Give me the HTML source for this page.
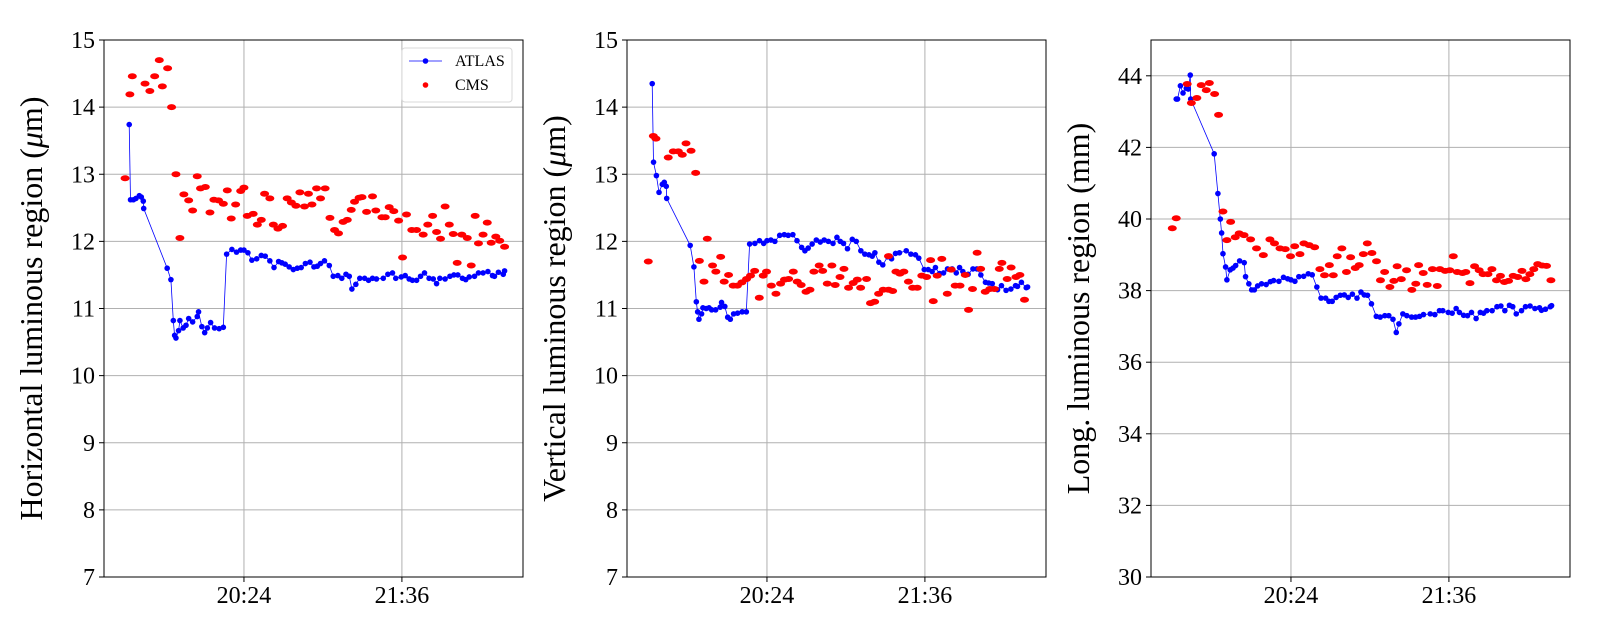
<!DOCTYPE html>
<html><head><meta charset="utf-8"><style>
html,body{margin:0;padding:0;background:#fff;}
svg{display:block;font-family:"Liberation Serif","DejaVu Serif",serif;}
</style></head><body>
<svg id="chart" width="1600" height="640" viewBox="0 0 1600 640" xmlns="http://www.w3.org/2000/svg"></svg>
<script>
// Time in minutes since 19:00
const xTickVals = [84, 156];
const xTickLabels = ["20:24", "21:36"];
const yTicks12 = [7, 8, 9, 10, 11, 12, 13, 14, 15];
const yTicks3 = [30, 32, 34, 36, 38, 40, 42, 44];

const atlasTimes = [31.7,32.3,33.6,34.8,36.3,37.2,38.1,38.3,49.0,50.7,
51.8,52.4,53.0,54.2,54.8,56.3,57.6,58.8,60.6,62.7,63.3,64.8,66.1,67.3,68.8,70.6,72.7,74.6,
76.1,78.5,80.6,82.5,84.0,85.8,87.6,89.8,91.9,93.7,95.8,97.7,99.8,101.3,102.8,104.6,106.5,108.3,110.1,112.0,114.1,115.9,117.4,118.9,120.7,122.9,124.7,126.8,128.6,130.5,132.0,133.2,135.0,136.8,139.0,140.8,142.6,144.4,147.5,149.6,151.7,153.2,155.7,157.5,159.3,160.8,162.7,164.5,166.3,168.4,170.3,171.8,173.3,175.7,177.9,179.7,181.5,183.6,185.1,186.7,189.1,190.9,193.0,195.2,197.3,198.2,200.0,202.2,202.8];

const atlasH = [13.74,12.62,12.62,12.64,12.68,12.66,12.6,12.49,11.6,11.43,
10.82,10.6,10.56,10.67,10.82,10.71,10.75,10.85,10.8,10.88,10.95,10.73,10.64,10.71,10.79,10.71,10.7,10.72,
11.81,11.88,11.84,11.87,11.87,11.83,11.72,11.74,11.79,11.78,11.71,11.61,11.7,11.68,11.66,11.62,11.58,11.6,11.61,11.67,11.69,11.62,11.63,11.67,11.71,11.64,11.48,11.49,11.45,11.51,11.48,11.29,11.36,11.45,11.45,11.42,11.45,11.44,11.45,11.51,11.53,11.45,11.47,11.49,11.44,11.42,11.42,11.48,11.53,11.45,11.44,11.37,11.45,11.44,11.48,11.5,11.5,11.45,11.43,11.47,11.48,11.53,11.53,11.55,11.49,11.48,11.54,11.51,11.56];

const atlasV = [14.35,13.18,12.98,12.73,12.85,12.88,12.82,12.64,11.94,11.62,
11.1,10.95,10.84,10.92,11.01,11.0,11.01,10.98,10.98,11.02,11.09,11.03,10.87,10.84,10.92,10.93,10.95,10.95,
11.96,11.97,12.01,11.97,12.01,12.02,12.0,12.09,12.1,12.09,12.1,12.01,11.91,11.86,11.9,11.96,12.02,11.99,12.02,12.0,11.97,12.06,12.0,11.97,11.89,12.03,12.0,11.86,11.81,11.8,11.78,11.83,11.69,11.65,11.77,11.74,11.82,11.83,11.86,11.81,11.8,11.75,11.58,11.58,11.55,11.61,11.52,11.53,11.59,11.59,11.53,11.61,11.55,11.51,11.59,11.59,11.5,11.39,11.38,11.37,11.28,11.34,11.27,11.29,11.34,11.33,11.39,11.31,11.32];

const atlasL = [43.35,43.35,43.72,43.52,43.65,43.63,44.02,43.35,41.82,40.71,
40.0,39.61,39.03,38.66,38.3,38.58,38.63,38.7,38.83,38.78,38.39,38.19,38.02,38.02,38.13,38.19,38.17,38.25,
38.28,38.26,38.37,38.33,38.3,38.26,38.39,38.4,38.47,38.44,38.1,37.79,37.79,37.7,37.7,37.81,37.87,37.88,37.81,37.9,37.79,37.96,37.88,37.87,37.63,37.28,37.26,37.3,37.3,37.2,36.83,37.07,37.35,37.3,37.26,37.26,37.28,37.33,37.35,37.33,37.44,37.44,37.39,37.37,37.5,37.39,37.31,37.3,37.39,37.22,37.39,37.37,37.44,37.44,37.55,37.57,37.44,37.59,37.55,37.35,37.44,37.55,37.57,37.5,37.52,37.45,37.48,37.55,37.58];

const cmsHTimes = [29.8,32.0,33.1,38.9,41.1,43.3,45.4,46.8,49.2,51.0,53.0,54.8,56.6,58.8,60.6,62.7,64.2,66.4,68.5,70.3,72.4,74.6,76.4,78.2,80.2,82.5,84.0,85.5,88.2,90.1,91.9,93.4,95.8,97.4,99.5,101.6,103.7,105.6,107.7,109.5,111.6,113.4,115.0,117.1,118.9,121.0,123.2,125.3,127.1,129.2,131.1,132.9,134.4,136.5,137.8,139.9,142.6,144.1,146.9,148.4,150.2,152.3,154.5,156.3,158.1,160.5,162.7,165.7,167.8,170.0,171.8,173.6,175.7,177.6,179.4,181.2,183.3,185.8,187.6,189.4,190.9,193.0,194.9,196.7,198.8,200.6,202.8];
const cmsH = [12.94,14.19,14.46,14.35,14.24,14.46,14.7,14.31,14.58,14.0,13.0,12.05,12.7,12.61,12.46,12.97,12.79,12.81,12.43,12.62,12.61,12.56,12.76,12.34,12.55,12.75,12.8,12.38,12.41,12.25,12.32,12.71,12.64,12.25,12.19,12.23,12.64,12.58,12.53,12.73,12.52,12.71,12.55,12.79,12.64,12.79,12.35,12.17,12.12,12.29,12.32,12.47,12.59,12.65,12.66,12.44,12.67,12.46,12.36,12.36,12.51,12.45,12.31,11.76,12.4,12.17,12.17,12.1,12.25,12.38,12.14,12.04,12.52,12.25,12.11,11.68,12.1,12.05,11.64,12.38,11.97,12.1,12.28,11.98,12.07,12.01,11.92];

const cmsVTimes = [29.9,32.2,33.4,39.0,41.3,43.6,45.4,47.1,49.4,51.5,53.2,55.3,56.8,59.2,60.7,62.9,64.5,66.5,68.6,70.5,72.6,74.7,76.5,78.4,80.5,82.3,83.8,86.0,88.1,90.2,92.0,93.9,96.0,97.8,99.6,101.8,103.6,105.4,107.8,109.4,111.5,113.6,115.1,117.3,119.1,121.2,123.3,125.2,126.7,129.4,131.2,133.1,134.9,137.0,139.4,139.4,141.3,142.8,144.6,146.4,148.5,150.4,152.5,154.6,156.8,158.6,159.8,161.6,163.7,166.2,168.0,169.8,172.0,174.4,175.9,177.7,179.8,181.4,183.5,185.6,187.7,189.9,191.1,193.5,195.3,197.5,199.3,201.4];
const cmsV = [11.70,13.57,13.53,13.25,13.34,13.34,13.29,13.46,13.35,13.02,11.71,11.4,12.04,11.64,11.55,11.77,11.4,11.5,11.34,11.34,11.39,11.44,11.49,11.56,11.16,11.49,11.55,11.34,11.22,11.37,11.43,11.44,11.55,11.4,11.35,11.25,11.28,11.55,11.64,11.56,11.37,11.64,11.35,11.47,11.59,11.31,11.38,11.43,11.31,11.44,11.08,11.1,11.22,11.28,11.28,11.78,11.26,11.55,11.52,11.55,11.4,11.31,11.31,11.49,11.47,11.72,11.11,11.49,11.74,11.22,11.58,11.34,11.34,11.5,10.98,11.29,11.83,11.59,11.25,11.29,11.29,11.59,11.68,11.44,11.61,11.47,11.5,11.13];

const cmsLTimes = [29.9,31.7,36.7,38.6,41.1,43.1,45.4,46.8,49.2,51.0,53.0,54.8,56.5,58.6,60.4,62.6,65.6,68.3,71.4,74.4,76.5,79.0,81.4,83.8,85.7,88.1,89.9,92.3,94.8,97.2,99.3,101.5,103.3,105.1,107.2,109.3,111.2,113.3,115.1,117.0,118.8,120.9,123.0,124.8,126.7,129.1,130.9,132.4,134.3,136.7,139.1,140.9,142.2,144.3,146.1,148.5,150.7,151.9,154.3,156.4,158.0,159.8,162.2,163.7,165.6,167.7,169.8,171.6,173.8,175.6,177.7,179.5,181.3,183.2,185.3,187.4,189.3,191.1,192.9,194.7,196.5,198.5,200.5,202.5];
const cmsL = [39.74,40.02,43.77,43.24,43.38,43.74,43.6,43.8,43.49,42.91,40.21,39.41,39.92,39.49,39.6,39.55,39.43,39.18,38.99,39.43,39.32,39.18,39.16,38.96,39.24,39.02,39.32,39.27,39.21,38.6,38.43,38.71,38.43,38.96,39.18,38.52,38.93,38.63,38.71,39.02,39.32,39.05,38.82,38.29,38.52,38.1,38.27,38.68,38.32,38.57,38.02,38.19,38.71,38.49,38.16,38.6,38.13,38.6,38.55,38.57,38.96,38.52,38.49,38.52,38.21,38.68,38.57,38.46,38.46,38.6,38.29,38.41,38.24,38.27,38.41,38.38,38.55,38.32,38.46,38.6,38.74,38.7,38.69,38.29];

const NS = "http://www.w3.org/2000/svg";
const svg = document.getElementById('chart');
function mk(tag, attrs, parent) {
  const e = document.createElementNS(NS, tag);
  for (const k in attrs) e.setAttribute(k, attrs[k]);
  (parent || svg).appendChild(e);
  return e;
}
const TOP = 40, BOT = 577, W = 419, XMIN = 20.2, XMAX = 211.2;

function panel(idx, left, ymin, ymax, yticks, ylabel, aT, aV, cT, cV, legend) {
  const g = mk('g', {});
  
  
  const xs = t => left + (t - XMIN) / (XMAX - XMIN) * W;
  const ys = v => BOT - (v - ymin) / (ymax - ymin) * (BOT - TOP);
  yticks.forEach(v => {
    const y = ys(v);
    const gl = mk('line', {x1: left, x2: left + W, y1: y, y2: y, stroke: '#b0b0b0', 'stroke-width': 1}, g);
    
    
    mk('line', {x1: left - 5, x2: left, y1: y, y2: y, stroke: '#000', 'stroke-width': 1}, g);
    const tl = mk('text', {x: left - 9, y: y + 8, 'text-anchor': 'end', 'font-size': 24, fill: '#000'}, g);
    
    
    tl.textContent = String(v);
  });
  xTickVals.forEach((t, i) => {
    const x = xs(t);
    const gl = mk('line', {x1: x, x2: x, y1: TOP, y2: BOT, stroke: '#b0b0b0', 'stroke-width': 1}, g);
    
    
    mk('line', {x1: x, x2: x, y1: BOT, y2: BOT + 5, stroke: '#000', 'stroke-width': 1}, g);
    const tl = mk('text', {x: x, y: 603, 'text-anchor': 'middle', 'font-size': 24, fill: '#000'}, g);
    
    
    tl.textContent = xTickLabels[i];
  });
  const n = Math.min(aT.length, aV.length);
  let d = '';
  for (let i = 0; i < n; i++) d += (i ? 'L' : 'M') + xs(aT[i]).toFixed(1) + ' ' + ys(aV[i]).toFixed(1);
  const ln = mk('path', {d: d, fill: 'none', stroke: '#0000ff', 'stroke-width': 0.8}, g);
  
  
  for (let i = 0; i < n; i++) {
    const c = mk('circle', {cx: xs(aT[i]), cy: ys(aV[i]), r: 2.8, fill: '#0000ff'}, g);
    
    
  }
  const m = Math.min(cT.length, cV.length);
  for (let i = 0; i < m; i++) {
    const c = mk('ellipse', {cx: xs(cT[i]), cy: ys(cV[i]), rx: 4.5, ry: 3, fill: '#ff0000'}, g);
    
    
  }
  const fr = mk('rect', {x: left, y: TOP, width: W, height: BOT - TOP, fill: 'none', stroke: '#000', 'stroke-width': 1}, g);
  
  
  const cx = left - 62, cy = (TOP + BOT) / 2;
  const yl = mk('text', {x: cx, y: cy, 'text-anchor': 'middle', 'font-size': 32, fill: '#000', transform: 'rotate(-90 ' + cx + ' ' + cy + ')'}, g);
  
  
  yl.innerHTML = ylabel;
  if (legend) {
    const lg = mk('g', {}, g);
    
    
    mk('rect', {x: 402, y: 48, width: 110, height: 54, rx: 3, fill: '#fff', 'fill-opacity': 0.8, stroke: '#d9d9d9', 'stroke-width': 1}, lg);
    const e1 = mk('g', {}, lg);
    
    
    mk('line', {x1: 409, x2: 442, y1: 61, y2: 61, stroke: '#0000ff', 'stroke-width': 0.8}, e1);
    mk('circle', {cx: 425.5, cy: 61, r: 2.8, fill: '#0000ff'}, e1);
    const t1 = mk('text', {x: 455, y: 66, 'font-size': 16, fill: '#000'}, e1);
    t1.textContent = 'ATLAS';
    const e2 = mk('g', {}, lg);
    
    
    mk('circle', {cx: 425.5, cy: 85, r: 2.8, fill: '#ff0000'}, e2);
    const t2 = mk('text', {x: 455, y: 90, 'font-size': 16, fill: '#000'}, e2);
    t2.textContent = 'CMS';
  }
}
panel(1, 104, 7, 15, yTicks12, 'Horizontal luminous region (<tspan font-style="italic">μ</tspan>m)', atlasTimes, atlasH, cmsHTimes, cmsH, true);
panel(2, 627, 7, 15, yTicks12, 'Vertical luminous region (<tspan font-style="italic">μ</tspan>m)', atlasTimes, atlasV, cmsVTimes, cmsV, false);
panel(3, 1151, 30, 45, yTicks3, 'Long. luminous region (mm)', atlasTimes, atlasL, cmsLTimes, cmsL, false);
</script>
</body></html>
